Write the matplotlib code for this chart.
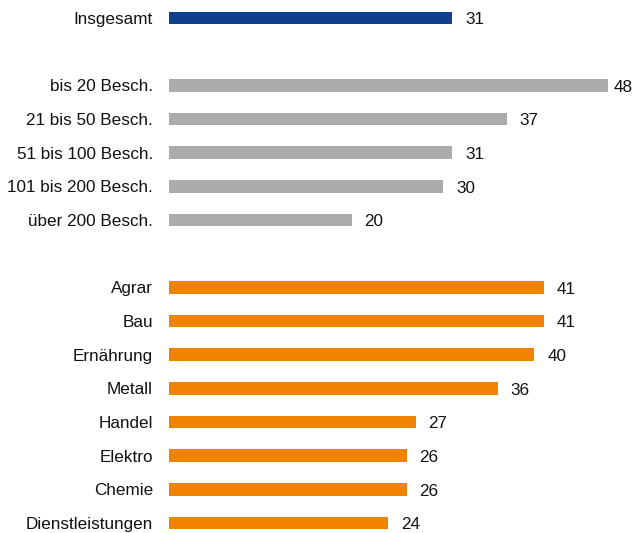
import matplotlib
matplotlib.use("Agg")
import matplotlib.pyplot as plt

plt.rcParams['font.family'] = ['Liberation Sans', 'DejaVu Sans']

total_label = ["Insgesamt"]
total_values = [31]
size_labels = ["bis 20 Besch.", "21 bis 50 Besch.", "51 bis 100 Besch.",
               "101 bis 200 Besch.", "über 200 Besch."]
size_values = [48, 37, 31, 30, 20]
sector_labels = ["Agrar", "Bau", "Ernährung", "Metall", "Handel",
                 "Elektro", "Chemie", "Dienstleistungen"]
sector_values = [41, 41, 40, 36, 27, 26, 26, 24]

groups = [
    (total_label, total_values, "#123F8C"),
    (size_labels, size_values, "#ABABAB"),
    (sector_labels, sector_values, "#F08300"),
]

FS = 12.3

fig = plt.figure(figsize=(6.35, 5.33), dpi=100)
ax = fig.add_axes([169/635, 0, 1 - 169/635, 1])

positions, labels = [], []
pos = 0
for labs, vals, col in groups:
    ys = list(range(pos, pos + len(labs)))
    ax.barh(ys, vals, height=0.38, color=col, edgecolor="none")
    for y, v in zip(ys, vals):
        ax.text(min(v + 1.4, 48.7), y + 0.05, str(v), ha="left", va="center",
                fontsize=FS, color="#111111")
    positions += ys
    labels += labs
    pos += len(labs) + 1

ax.set_yticks(positions)
ax.set_yticklabels(labels, fontsize=FS, color="#111111")
ax.tick_params(axis="y", length=0, pad=11.5)
ax.set_xticks([])
ax.set_xlim(0, 51)
ax.set_ylim(15.297, -0.535)
for s in ax.spines.values():
    s.set_visible(False)

fig.savefig("out.png", dpi=100)
